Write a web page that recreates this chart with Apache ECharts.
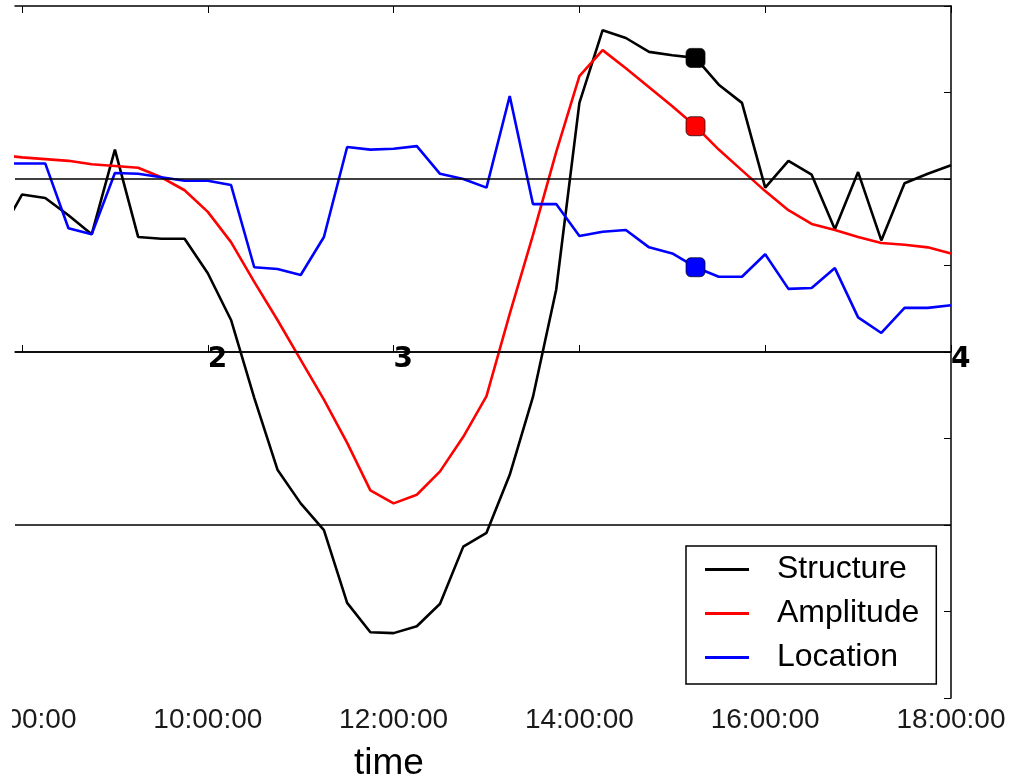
<!DOCTYPE html>
<html>
<head>
<meta charset="utf-8">
<script src="https://cdn.jsdelivr.net/npm/echarts@6/dist/echarts.min.js"></script>
<style>
  html, body { margin: 0; padding: 0; background: #fff; }
  #chart { width: 1009px; height: 784px; }
</style>
</head>
<body>
<div id="chart"></div>
<script>
// Sample times (15-minute steps)
const times = [
  '07:45', '08:00', '08:15', '08:30', '08:45', '09:00', '09:15', '09:30', '09:45',
  '10:00', '10:15', '10:30', '10:45', '11:00', '11:15', '11:30', '11:45',
  '12:00', '12:15', '12:30', '12:45', '13:00', '13:15', '13:30', '13:45',
  '14:00', '14:15', '14:30', '14:45', '15:00', '15:15', '15:30', '15:45',
  '16:00', '16:15', '16:30', '16:45', '17:00', '17:15', '17:30', '17:45', '18:00'
];

const structureVals = [
  1.34, 1.82, 1.78, 1.58, 1.36, 2.34, 1.33, 1.31, 1.31,
  0.91, 0.37, -0.53, -1.36, -1.75, -2.06, -2.90, -3.24,
  -3.25, -3.17, -2.91, -2.25, -2.09, -1.42, -0.52, 0.72,
  2.88, 3.72, 3.63, 3.47, 3.43, 3.40, 3.09, 2.88,
  1.90, 2.21, 2.05, 1.42, 2.08, 1.29, 1.95, 2.06, 2.16
];

const amplitudeVals = [
  2.28, 2.25, 2.23, 2.21, 2.17, 2.15, 2.13, 2.02, 1.87,
  1.62, 1.27, 0.81, 0.37, -0.09, -0.55, -1.05, -1.60,
  -1.75, -1.65, -1.38, -0.98, -0.51, 0.44, 1.35, 2.31,
  3.19, 3.49, 3.28, 3.06, 2.84, 2.61, 2.34, 2.10,
  1.86, 1.64, 1.48, 1.41, 1.33, 1.26, 1.24, 1.21, 1.14
];

const locationVals = [
  2.18, 2.18, 2.18, 1.43, 1.36, 2.07, 2.06, 2.02, 1.98,
  1.98, 1.93, 0.98, 0.96, 0.89, 1.33, 2.37, 2.34,
  2.35, 2.38, 2.06, 2.00, 1.90, 2.96, 1.71, 1.71,
  1.34, 1.39, 1.41, 1.21, 1.14, 0.98, 0.87, 0.87,
  1.13, 0.73, 0.74, 0.97, 0.40, 0.22, 0.51, 0.51, 0.54
];

// Highlighted moment
const markerTime = '15:15';

// Reference levels
const refLevels = [2, 0, -2];

// Phase annotations
const annoTimes = ['10:00', '12:00', '18:00'];
const annoText = ['2', '3', '4'];

// Axis tick labels
const tickLabels = ['08:00:00', '10:00:00', '12:00:00', '14:00:00', '16:00:00', '18:00:00'];

const xMin = 7.9246;
const xMax = 18;
const yMin = -4;
const yMax = 4;

function toHours(s) {
  const p = s.split(':').map(Number);
  return p[0] + p[1] / 60 + (p[2] || 0) / 3600;
}
function pad(n) { return (n < 10 ? '0' : '') + n; }
function fmtHours(v) {
  const totalMin = Math.round(v * 60);
  return pad(Math.floor(totalMin / 60)) + ':' + pad(totalMin % 60) + ':00';
}

const xs = times.map(toHours);
const pairs = arr => arr.map((v, i) => [xs[i], v]);
const tickValues = tickLabels.map(toHours);
const mIdx = times.indexOf(markerTime);

const names = ['Structure', 'Amplitude', 'Location'];
const colors = ['#000000', '#ff0000', '#0000ff'];
const seriesData = [structureVals, amplitudeVals, locationVals];

const series = [];

series.push({
  name: 'refLines',
  type: 'line',
  data: [],
  z: 1,
  markLine: {
    silent: true,
    symbol: 'none',
    label: { show: false },
    lineStyle: { color: '#000', width: 1.5, type: 'solid' },
    data: refLevels.map(v => ({ yAxis: v }))
  }
});

names.forEach((n, k) => {
  series.push({
    name: n,
    type: 'line',
    data: pairs(seriesData[k]),
    color: colors[k],
    showSymbol: false,
    symbol: 'none',
    lineStyle: { color: colors[k], width: 2.6 },
    z: 3
  });
});

names.forEach((n, k) => {
  series.push({
    name: n + ' marker',
    type: 'scatter',
    data: [[xs[mIdx], seriesData[k][mIdx]]],
    symbol: 'roundRect',
    symbolSize: 19,
    itemStyle: { color: colors[k], opacity: 1, borderColor: 'rgba(0,0,0,0.7)', borderWidth: 1 },
    z: 5
  });
});

series.push({
  name: 'annotations',
  type: 'scatter',
  data: annoTimes.map(t => [toHours(t), 0]),
  symbolSize: 0,
  clip: false,
  z: 6,
  itemStyle: { opacity: 1 },
  label: {
    show: true,
    position: [0, 8],
    align: 'left',
    verticalAlign: 'middle',
    formatter: p => annoText[p.dataIndex],
    fontFamily: 'DejaVu Sans',
    fontWeight: 'bold',
    fontSize: 28,
    color: '#000',
    opacity: 1
  }
});

const tickStyle = { show: true, inside: true, length: 7, lineStyle: { color: '#000', width: 1 } };

const option = {
  animation: false,
  backgroundColor: '#fff',
  grid: { left: 15, right: 58, top: 6, bottom: 86, containLabel: false, outerBoundsMode: 'none' },
  xAxis: [
    {
      type: 'value', position: 'bottom', min: xMin, max: xMax,
      axisLine: { show: true, lineStyle: { color: '#000', width: 1.5 } },
      axisTick: Object.assign({ customValues: tickValues }, tickStyle),
      axisLabel: {
        customValues: tickValues,
        formatter: v => fmtHours(v),
        fontFamily: 'Liberation Sans', fontSize: 28, color: '#1a1a1a', margin: 8
      },
      splitLine: { show: false }
    },
    {
      type: 'value', position: 'top', min: xMin, max: xMax,
      axisLine: { show: true, lineStyle: { color: '#000', width: 1.5 } },
      axisTick: Object.assign({ customValues: tickValues }, tickStyle),
      axisLabel: { show: false },
      splitLine: { show: false }
    }
  ],
  yAxis: [
    {
      type: 'value', position: 'right', min: yMin, max: yMax, interval: 1,
      axisLine: { show: true, lineStyle: { color: '#000', width: 1.5 } },
      axisTick: tickStyle,
      axisLabel: { show: false },
      splitLine: { show: false }
    }
  ],
  legend: {
    data: names,
    orient: 'vertical',
    left: 686,
    top: 546,
    padding: [6, 17, 9, 19],
    itemWidth: 44,
    itemHeight: 3,
    icon: 'rect',
    itemGap: 9,
    backgroundColor: '#fff',
    borderColor: '#000',
    borderWidth: 1.5,
    selectedMode: false,
    textStyle: {
      fontFamily: 'Liberation Sans', fontSize: 32, color: '#000',
      lineHeight: 35, padding: [0, 0, 0, 23]
    }
  },
  graphic: [
    {
      type: 'rect', left: 0, top: 0, z: 100,
      shape: { width: 14, height: 697 },
      style: { fill: '#fff' }
    },
    {
      type: 'rect', left: 0, top: 700, z: 100,
      shape: { width: 12, height: 40 },
      style: { fill: '#fff' }
    },
    {
      type: 'text', z: 100,
      style: {
        x: 389, y: 764, text: 'time',
        align: 'center', verticalAlign: 'middle',
        textAlign: 'center', textVerticalAlign: 'middle',
        font: '37px "Liberation Sans"', fill: '#000'
      }
    }
  ],
  series: series
};

const chart = echarts.init(document.getElementById('chart'), null, { renderer: 'canvas' });
chart.setOption(option);
</script>
</body>
</html>
